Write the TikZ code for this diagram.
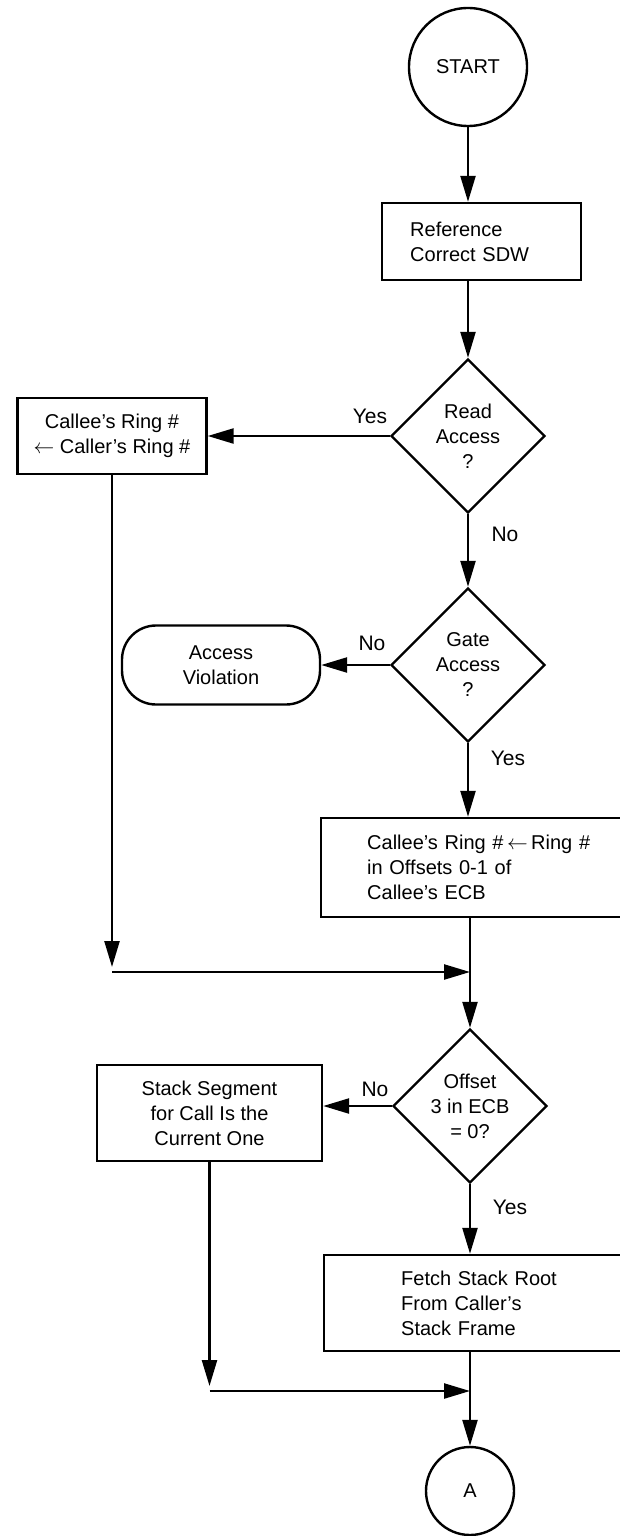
\documentclass[tikz,border=0pt]{standalone}
\usepackage{fontspec}
\setmainfont{Liberation Sans}
\usetikzlibrary{arrows.meta,shapes.geometric}
\begin{document}
\begin{tikzpicture}[x=1pt,y=-1pt,
  every node/.style={font=\fontsize{20}{25}\selectfont},
  arr/.style={line width=2.4pt,-{Triangle[length=26pt,width=15pt]}},
  proc/.style={draw,line width=2.4pt,rectangle,inner ysep=0pt},
  decision/.style={draw,line width=2.4pt,diamond,inner sep=0pt,
    minimum width=154pt,minimum height=154pt,align=center},
  term/.style={draw,line width=2.4pt,circle,inner sep=0pt},
  lbl/.style={font=\fontsize{21}{25}\selectfont}]
\useasboundingbox (0,0) rectangle (620,1536);
\clip (0,0) rectangle (620,1536);

% main column
\node[term, minimum size=118pt] (start) at (468,67) {START};
\node[proc, anchor=west, text width=143pt, inner xsep=28pt,
      minimum height=77pt, align=left] (ref) at (381,241.5)
      {Reference\\Correct SDW};
\node[decision] (read) at (468,436) {Read\\Access\\?};
\node[decision] (gate) at (468,665) {Gate\\Access\\?};
\node[proc, anchor=west, text width=250pt, inner xsep=46pt,
      minimum height=99pt, align=left] (ecb) at (320,867.5)
      {Callee's Ring \#$\,\leftarrow\,$Ring \#\\in Offsets 0-1 of\\Callee's ECB};
\node[decision] (offset) at (470,1106) {Offset\\3 in ECB\\= 0?};
\node[proc, anchor=west, text width=200pt, inner xsep=77pt,
      minimum height=96pt, align=left] (fetch) at (323,1303)
      {Fetch Stack Root\\From Caller's\\Stack Frame};
\node[term, minimum size=88pt] (A) at (470,1491) {A};

% side branches
\node[proc, align=center, minimum width=189pt, minimum height=76pt]
      (callee) at (112,436) {Callee's Ring \#\\$\leftarrow$ Caller's Ring \#};
\node[draw, line width=2.4pt, rounded corners=34pt, minimum width=198pt,
      minimum height=79pt, align=center] (viol) at (221,665) {Access\\Violation};
\node[proc, align=center, minimum width=225pt, minimum height=96pt]
      (stack) at (209.5,1113) {Stack Segment\\for Call Is the\\Current One};

% junction points
\coordinate (j1) at (112,972);
\coordinate (j2) at (209.5,1391);

% connectors
\draw[arr] (start.south) -- (ref.north -| start.south);
\draw[arr] (ref.south -| read.north) -- (read.north);
\draw[arr] (read.west) -- (callee.east);
\draw[arr] (read.south) -- (gate.north);
\draw[arr] (gate.west) -- (viol.east);
\draw[arr] (gate.south) -- (gate.south |- ecb.north);
\draw[arr] (callee.south) -- ([yshift=5pt]j1);
\draw[arr] (j1) -- (j1 -| offset.north);
\draw[arr] (ecb.south -| offset.north) -- (offset.north);
\draw[arr] (offset.west) -- (offset.west -| stack.east);
\draw[arr] (offset.south) -- (offset.south |- fetch.north);
\draw[arr] (stack.south) -- ([yshift=5pt]j2);
\draw[arr] (j2) -- (j2 -| A.north);
\draw[arr] (fetch.south -| A.north) -- (A.north);

% branch labels
\node[lbl] (yes1) at (370,416) {Yes};
\node[lbl] (no1) at (505,534) {No};
\node[lbl] (no2) at (372,643) {No};
\node[lbl] (yes2) at (508,758) {Yes};
\node[lbl] (no3) at (375,1089) {No};
\node[lbl] (yes3) at (510,1207) {Yes};
\end{tikzpicture}
\end{document}
